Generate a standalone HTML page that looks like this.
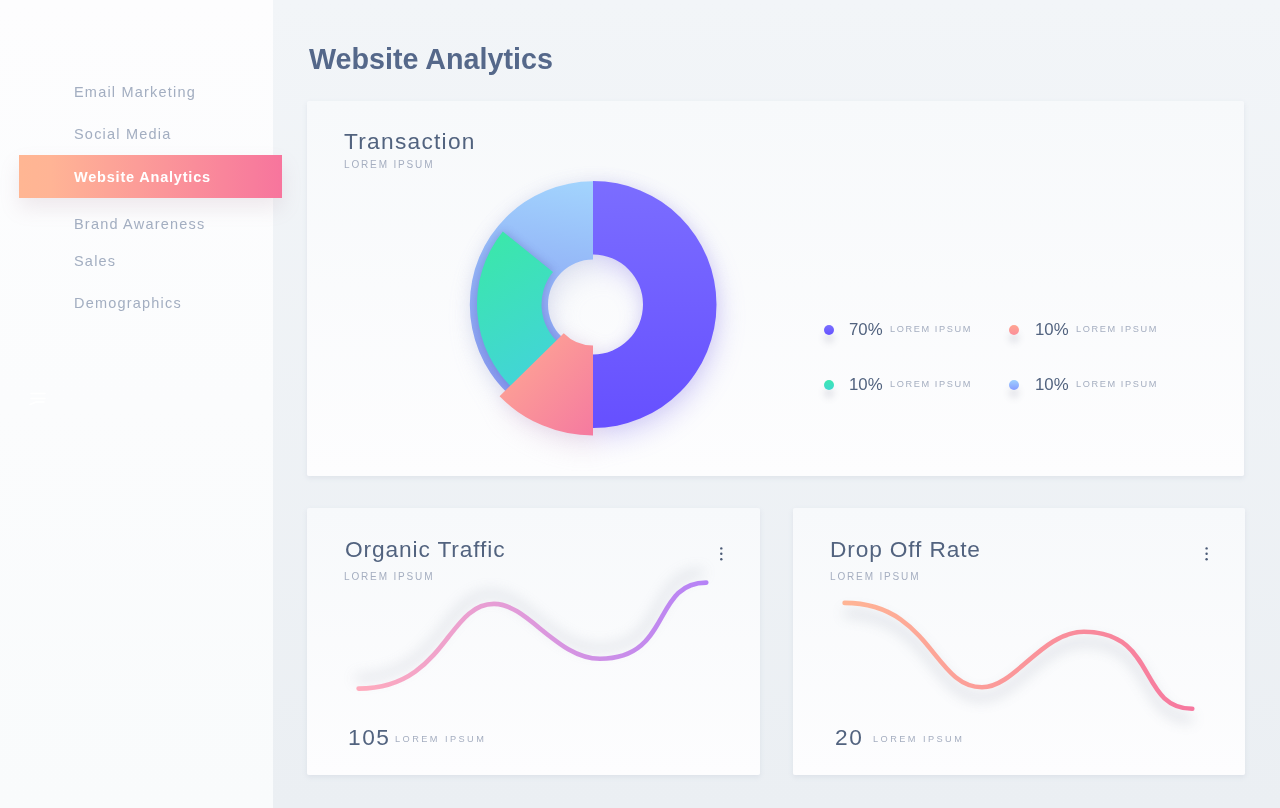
<!DOCTYPE html>
<html><head><meta charset="utf-8">
<style>
html,body{margin:0;padding:0;}
body{width:1280px;height:808px;position:relative;overflow:hidden;background:#eef1f5;font-family:"Liberation Sans",sans-serif;}
.abs{position:absolute;white-space:nowrap;line-height:1;will-change:transform;}
#main{position:absolute;left:273px;top:0;width:1007px;height:808px;background:linear-gradient(#f2f5f8,#ebeff3);}
#side{position:absolute;left:0;top:0;width:273px;height:808px;background:linear-gradient(#fdfdfe,#f9fbfc);}
.nav{will-change:transform;position:absolute;left:74.3px;font-size:14.5px;letter-spacing:1.2px;color:#a3aec1;line-height:1;white-space:nowrap;}
#active{position:absolute;left:19px;top:155px;width:263px;height:43px;background:linear-gradient(90deg,#ffb693 0%,#ffb495 12%,#f7759d 100%);box-shadow:0 10px 20px rgba(170,130,150,0.16);}
.card{position:absolute;background:linear-gradient(#f7f9fb,#fdfdfe);border-radius:2px;box-shadow:0 2px 5px rgba(140,155,180,0.16);}
.ct{font-size:22.7px;color:#52637f;}
.sub{font-size:10px;letter-spacing:1.85px;color:#a5aec0;}
.pct{font-size:16.8px;color:#52637f;}
.lsub{font-size:9.2px;letter-spacing:1.6px;color:#a5aec0;}
.dot{position:absolute;width:10px;height:10px;border-radius:50%;box-shadow:0 8px 7px rgba(90,95,120,0.16);}
.kebab{position:absolute;width:3px;}
.kebab i{display:block;width:2.5px;height:2.5px;border-radius:50%;background:#56657f;margin-bottom:2.9px;}
</style></head>
<body>
<div id="main"></div>
<div id="side"></div>
<div id="active"></div>
<div class="nav" style="top:84.8px">Email Marketing</div>
<div class="nav" style="top:126.7px">Social Media</div>
<div class="nav" style="top:169.6px;color:#fff;font-weight:700;letter-spacing:0.8px">Website Analytics</div>
<div class="nav" style="top:216.8px">Brand Awareness</div>
<div class="nav" style="top:253.5px">Sales</div>
<div class="nav" style="top:295.5px">Demographics</div>

<svg class="abs" style="left:0;top:0" width="60" height="420" viewBox="0 0 60 420"><g stroke="#ffffff" stroke-width="1.6" stroke-linecap="round" fill="none"><path d="M31 393.5H45"/><path d="M31 398.5H45"/><path d="M30 404.5L36 402H44"/></g></svg>
<div class="abs" style="left:309px;top:45.2px;font-size:28.7px;font-weight:700;color:#55688a">Website Analytics</div>

<!-- Transaction card -->
<div class="card" style="left:307px;top:101px;width:937px;height:375px"></div>
<div class="abs ct" style="left:344px;top:129.5px;letter-spacing:1.27px">Transaction</div>
<div class="abs sub" style="left:344px;top:159.5px">LOREM IPSUM</div>



<div class="dot" style="left:823.6px;top:324.6px;background:linear-gradient(#7a70ff,#6552ff)"></div>
<div class="abs pct" style="left:848.8px;top:321.6px">70%</div>
<div class="abs lsub" style="left:890.4px;top:324.5px">LOREM IPSUM</div>
<div class="dot" style="left:1009.2px;top:324.6px;background:linear-gradient(#ffa591,#fb8f9a)"></div>
<div class="abs pct" style="left:1034.6px;top:321.6px">10%</div>
<div class="abs lsub" style="left:1075.8px;top:324.5px">LOREM IPSUM</div>
<div class="dot" style="left:823.6px;top:379.6px;background:linear-gradient(#3de8b0,#40d7d0)"></div>
<div class="abs pct" style="left:848.8px;top:376.6px">10%</div>
<div class="abs lsub" style="left:890.4px;top:379.5px">LOREM IPSUM</div>
<div class="dot" style="left:1009.2px;top:379.6px;background:linear-gradient(#9fd0ff,#869cff)"></div>
<div class="abs pct" style="left:1034.6px;top:376.6px">10%</div>
<div class="abs lsub" style="left:1075.8px;top:379.5px">LOREM IPSUM</div>

<!-- Organic card -->
<div class="card" style="left:307px;top:508px;width:453px;height:267px"></div>
<div class="abs ct" style="left:344.5px;top:537.5px;letter-spacing:0.89px">Organic Traffic</div>
<div class="abs sub" style="left:344px;top:572.2px">LOREM IPSUM</div>
<div class="abs ct" style="left:348px;top:725.8px;letter-spacing:1.55px">105</div>
<div class="abs sub" style="left:395.3px;top:735px;font-size:9.2px;letter-spacing:2.45px">LOREM IPSUM</div>

<!-- Drop card -->
<div class="card" style="left:793px;top:508px;width:452px;height:267px"></div>
<div class="abs ct" style="left:830px;top:537.5px;letter-spacing:0.87px">Drop Off Rate</div>
<div class="abs sub" style="left:829.7px;top:572.2px">LOREM IPSUM</div>
<div class="abs ct" style="left:834.5px;top:725.8px;letter-spacing:1.55px">20</div>
<div class="abs sub" style="left:873.2px;top:735px;font-size:9.2px;letter-spacing:2.45px">LOREM IPSUM</div>

<svg id="chart" class="abs" style="left:0;top:0" width="1280" height="808" viewBox="0 0 1280 808">
<defs>
<linearGradient id="gP" x1="0" y1="0" x2="0" y2="1"><stop offset="0" stop-color="#7b6dff"/><stop offset="1" stop-color="#6650ff"/></linearGradient>
<linearGradient id="gB" gradientUnits="userSpaceOnUse" x1="560" y1="180" x2="520" y2="420"><stop offset="0" stop-color="#a2d3fd"/><stop offset="0.4" stop-color="#93b4f7"/><stop offset="1" stop-color="#8593ee"/></linearGradient>
<linearGradient id="gG" x1="0" y1="0" x2="0.3" y2="1"><stop offset="0" stop-color="#3ae9a6"/><stop offset="1" stop-color="#42d5d6"/></linearGradient>
<linearGradient id="gK" x1="0" y1="0" x2="1" y2="1"><stop offset="0" stop-color="#ffab92"/><stop offset="1" stop-color="#f57aa0"/></linearGradient>
<linearGradient id="gO" gradientUnits="userSpaceOnUse" x1="358" y1="0" x2="707" y2="0"><stop offset="0" stop-color="#ffabbc"/><stop offset="0.45" stop-color="#e29bd9"/><stop offset="1" stop-color="#b582f7"/></linearGradient>
<linearGradient id="gD" gradientUnits="userSpaceOnUse" x1="843" y1="0" x2="1192" y2="0"><stop offset="0" stop-color="#ffb595"/><stop offset="1" stop-color="#f6789f"/></linearGradient>
<filter id="sh" x="-50%" y="-50%" width="200%" height="200%"><feGaussianBlur stdDeviation="13"/></filter>
<filter id="sh2" x="-50%" y="-50%" width="200%" height="200%"><feGaussianBlur stdDeviation="8"/></filter>
<filter id="csh" x="-20%" y="-50%" width="140%" height="200%"><feGaussianBlur stdDeviation="7"/></filter>
<filter id="gsh" x="-50%" y="-50%" width="200%" height="200%"><feGaussianBlur stdDeviation="5"/></filter>
<clipPath id="cB"><path d="M593.00 427.70 A123.2 123.2 0 0 1 593.00 181.30 L593.00 259.50 A45 45 0 0 0 593.00 349.50Z"/></clipPath>
</defs>
<g filter="url(#sh2)" opacity="0.22">
<path d="M593.00 181.00 A123.5 123.5 0 0 1 593.00 428.00 L593.00 354.50 A50 50 0 0 0 593.00 254.50Z" fill="#9890d8"/>
<path d="M593.00 427.70 A123.2 123.2 0 0 1 593.00 181.30 L593.00 259.50 A45 45 0 0 0 593.00 349.50Z" fill="#a0a8d8"/>
<path d="M593.00 435.50 A131 131 0 0 1 499.56 396.32 L563.76 333.24 A41 41 0 0 0 593.00 345.50Z" fill="#b8a0c8"/>
</g>
<g filter="url(#sh)" opacity="0.26" transform="translate(4,12)">
<path d="M593.00 181.00 A123.5 123.5 0 0 1 593.00 428.00 L593.00 354.50 A50 50 0 0 0 593.00 254.50Z" fill="#8a7cf0"/>
<path d="M593.00 427.70 A123.2 123.2 0 0 1 593.00 181.30 L593.00 259.50 A45 45 0 0 0 593.00 349.50Z" fill="#a9b0d8"/>
<path d="M593.00 435.50 A131 131 0 0 1 499.56 396.32 L563.76 333.24 A41 41 0 0 0 593.00 345.50Z" fill="#c8a3c8"/>
</g>
<path d="M593.00 427.70 A123.2 123.2 0 0 1 593.00 181.30 L593.00 259.50 A45 45 0 0 0 593.00 349.50Z" fill="url(#gB)"/>
<path d="M593.00 181.00 A123.5 123.5 0 0 1 593.00 428.00 L593.00 354.50 A50 50 0 0 0 593.00 254.50Z" fill="url(#gP)"/>
<g clip-path="url(#cB)"><path d="M515.38 390.70 A116 116 0 0 1 502.85 231.50 L552.98 272.09 A51.5 51.5 0 0 0 558.54 342.77Z" fill="#5a64b8" opacity="0.45" filter="url(#gsh)"/></g>
<path d="M515.38 390.70 A116 116 0 0 1 502.85 231.50 L552.98 272.09 A51.5 51.5 0 0 0 558.54 342.77Z" fill="url(#gG)"/>
<path d="M593.00 435.50 A131 131 0 0 1 499.56 396.32 L563.76 333.24 A41 41 0 0 0 593.00 345.50Z" fill="url(#gK)"/>
<g filter="url(#csh)" opacity="0.38" transform="translate(-3,-10)">
<path d="M358.6 688.6 C444.7 688.6 447.2 603.9 494.0 603.9 C528.2 603.9 556.6 658.8 600.0 658.8 C672.2 658.8 651.8 582.5 706.3 582.6" fill="none" stroke="#9aa0b0" stroke-width="5"/>
</g>
<g filter="url(#csh)" opacity="0.45" transform="translate(0,10)">
<path d="M844.6 602.9 C930.6 602.9 933.2 687.2 982.0 687.2 C1015.3 687.2 1041.5 631.8 1084.0 631.8 C1157.8 631.8 1137.9 708.8 1192.3 708.8" fill="none" stroke="#9aa0b0" stroke-width="5"/>
</g>
<path d="M358.6 688.6 C444.7 688.6 447.2 603.9 494.0 603.9 C528.2 603.9 556.6 658.8 600.0 658.8 C672.2 658.8 651.8 582.5 706.3 582.6" fill="none" stroke="url(#gO)" stroke-width="4.6" stroke-linecap="round"/>
<path d="M844.6 602.9 C930.6 602.9 933.2 687.2 982.0 687.2 C1015.3 687.2 1041.5 631.8 1084.0 631.8 C1157.8 631.8 1137.9 708.8 1192.3 708.8" fill="none" stroke="url(#gD)" stroke-width="4.6" stroke-linecap="round"/>
<g fill="#4a5a76">
<circle cx="721.3" cy="548.4" r="1.2"/><circle cx="721.3" cy="553.8" r="1.2"/><circle cx="721.3" cy="559.2" r="1.2"/>
<circle cx="1206.6" cy="548.4" r="1.2"/><circle cx="1206.6" cy="553.8" r="1.2"/><circle cx="1206.6" cy="559.2" r="1.2"/>
</g>
</svg>
</body></html>
